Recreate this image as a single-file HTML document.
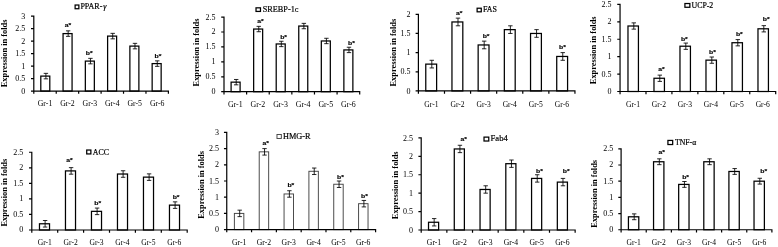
<!DOCTYPE html>
<html><head><meta charset="utf-8"><title>Expression in folds</title>
<style>html,body{margin:0;padding:0;background:#fff}svg{display:block}text{font-family:"Liberation Serif",serif;fill:#000}.m{font-family:"Liberation Sans",sans-serif;font-weight:bold;font-size:6px;stroke:#000;stroke-width:.15px}.l{stroke:#000;stroke-width:.2px}</style></head>
<body>
<svg width="778" height="247" viewBox="0 0 778 247">
<rect width="778" height="247" fill="#fff"/>
<g>
<text transform="translate(7.1,53.4) rotate(-90)" text-anchor="middle" font-size="8.4" font-weight="bold">Expression in folds</text>
<rect x="40.80" y="76.10" width="9.00" height="15.00" fill="#fff" stroke="#000" stroke-width="1.25"/>
<path d="M45.90 73.35V78.85M43.70 73.35H48.10M43.70 78.85H48.10" stroke="#000" stroke-width="0.85" fill="none"/>
<rect x="63.07" y="33.60" width="9.00" height="57.50" fill="#fff" stroke="#000" stroke-width="1.25"/>
<path d="M68.17 30.85V36.35M65.97 30.85H70.37M65.97 36.35H70.37" stroke="#000" stroke-width="0.85" fill="none"/>
<rect x="85.34" y="61.10" width="9.00" height="30.00" fill="#fff" stroke="#000" stroke-width="1.25"/>
<path d="M90.44 58.35V63.85M88.24 58.35H92.64M88.24 63.85H92.64" stroke="#000" stroke-width="0.85" fill="none"/>
<rect x="107.61" y="36.10" width="9.00" height="55.00" fill="#fff" stroke="#000" stroke-width="1.25"/>
<path d="M112.71 33.35V38.85M110.51 33.35H114.91M110.51 38.85H114.91" stroke="#000" stroke-width="0.85" fill="none"/>
<rect x="129.88" y="46.10" width="9.00" height="45.00" fill="#fff" stroke="#000" stroke-width="1.25"/>
<path d="M134.98 43.35V48.85M132.78 43.35H137.18M132.78 48.85H137.18" stroke="#000" stroke-width="0.85" fill="none"/>
<rect x="152.15" y="63.60" width="9.00" height="27.50" fill="#fff" stroke="#000" stroke-width="1.25"/>
<path d="M157.25 60.85V66.35M155.05 60.85H159.45M155.05 66.35H159.45" stroke="#000" stroke-width="0.85" fill="none"/>
<text class="m" transform="translate(67.90,26.90) scale(1.14,1)" text-anchor="middle">a*</text>
<text class="m" transform="translate(89.20,55.10) scale(1.14,1)" text-anchor="middle">b*</text>
<text class="m" transform="translate(157.90,57.60) scale(1.14,1)" text-anchor="middle">b*</text>
<path d="M33.80 15.50V91.10H169.00M31.00 91.10H33.80M31.00 78.60H33.80M31.00 66.10H33.80M31.00 53.60H33.80M31.00 41.10H33.80M31.00 28.60H33.80M31.00 16.10H33.80M33.80 91.10V93.80M56.23 91.10V93.80M78.67 91.10V93.80M101.10 91.10V93.80M123.53 91.10V93.80M145.97 91.10V93.80M168.40 91.10V93.80" stroke="#000" stroke-width="1.2" fill="none"/>
<text x="25.30" y="93.90" text-anchor="end" font-size="8">0</text>
<text x="25.30" y="81.40" text-anchor="end" font-size="8">0.5</text>
<text x="25.30" y="68.90" text-anchor="end" font-size="8">1</text>
<text x="25.30" y="56.40" text-anchor="end" font-size="8">1.5</text>
<text x="25.30" y="43.90" text-anchor="end" font-size="8">2</text>
<text x="25.30" y="31.40" text-anchor="end" font-size="8">2.5</text>
<text x="25.30" y="18.90" text-anchor="end" font-size="8">3</text>
<text x="45.02" y="106.30" text-anchor="middle" font-size="7.8">Gr-1</text>
<text x="67.45" y="106.30" text-anchor="middle" font-size="7.8">Gr-2</text>
<text x="89.88" y="106.30" text-anchor="middle" font-size="7.8">Gr-3</text>
<text x="112.32" y="106.30" text-anchor="middle" font-size="7.8">Gr-4</text>
<text x="134.75" y="106.30" text-anchor="middle" font-size="7.8">Gr-5</text>
<text x="157.18" y="106.30" text-anchor="middle" font-size="7.8">Gr-6</text>
<rect x="75.12" y="5.03" width="3.75" height="3.70" fill="#fff" stroke="#000" stroke-width="1.25"/>
<text class="l" x="80.40" y="9.10" font-size="8.0">PPAR-<tspan font-style="italic" dx="0.8">γ</tspan></text>
</g>
<g>
<text transform="translate(198.9,52.5) rotate(-90)" text-anchor="middle" font-size="8.4" font-weight="bold">Expression in folds</text>
<rect x="231.10" y="82.15" width="9.00" height="9.55" fill="#fff" stroke="#000" stroke-width="1.25"/>
<path d="M236.20 79.47V84.84M234.00 79.47H238.40M234.00 84.84H238.40" stroke="#000" stroke-width="0.85" fill="none"/>
<rect x="253.65" y="29.04" width="9.00" height="62.66" fill="#fff" stroke="#000" stroke-width="1.25"/>
<path d="M258.75 26.35V31.72M256.55 26.35H260.95M256.55 31.72H260.95" stroke="#000" stroke-width="0.85" fill="none"/>
<rect x="276.21" y="43.96" width="9.00" height="47.74" fill="#fff" stroke="#000" stroke-width="1.25"/>
<path d="M281.31 41.27V46.64M279.11 41.27H283.51M279.11 46.64H283.51" stroke="#000" stroke-width="0.85" fill="none"/>
<rect x="298.76" y="26.05" width="9.00" height="65.65" fill="#fff" stroke="#000" stroke-width="1.25"/>
<path d="M303.86 23.37V28.74M301.66 23.37H306.06M301.66 28.74H306.06" stroke="#000" stroke-width="0.85" fill="none"/>
<rect x="321.32" y="40.97" width="9.00" height="50.73" fill="#fff" stroke="#000" stroke-width="1.25"/>
<path d="M326.42 38.29V43.66M324.22 38.29H328.62M324.22 43.66H328.62" stroke="#000" stroke-width="0.85" fill="none"/>
<rect x="343.87" y="49.92" width="9.00" height="41.78" fill="#fff" stroke="#000" stroke-width="1.25"/>
<path d="M348.97 47.24V52.61M346.77 47.24H351.17M346.77 52.61H351.17" stroke="#000" stroke-width="0.85" fill="none"/>
<text class="m" transform="translate(260.50,23.00) scale(1.14,1)" text-anchor="middle">a*</text>
<text class="m" transform="translate(283.60,38.90) scale(1.14,1)" text-anchor="middle">b*</text>
<text class="m" transform="translate(351.40,44.50) scale(1.14,1)" text-anchor="middle">b*</text>
<path d="M224.00 16.50V91.70H360.30M221.20 91.70H224.00M221.20 76.78H224.00M221.20 61.86H224.00M221.20 46.94H224.00M221.20 32.02H224.00M221.20 17.10H224.00M224.00 91.70V94.40M246.62 91.70V94.40M269.23 91.70V94.40M291.85 91.70V94.40M314.47 91.70V94.40M337.08 91.70V94.40M359.70 91.70V94.40" stroke="#000" stroke-width="1.2" fill="none"/>
<text x="215.60" y="94.10" text-anchor="end" font-size="8">0</text>
<text x="215.60" y="79.18" text-anchor="end" font-size="8">0.5</text>
<text x="215.60" y="64.26" text-anchor="end" font-size="8">1</text>
<text x="215.60" y="49.34" text-anchor="end" font-size="8">1.5</text>
<text x="215.60" y="34.42" text-anchor="end" font-size="8">2</text>
<text x="215.60" y="19.50" text-anchor="end" font-size="8">2.5</text>
<text x="235.31" y="107.20" text-anchor="middle" font-size="7.9">Gr-1</text>
<text x="257.93" y="107.20" text-anchor="middle" font-size="7.9">Gr-2</text>
<text x="280.54" y="107.20" text-anchor="middle" font-size="7.9">Gr-3</text>
<text x="303.16" y="107.20" text-anchor="middle" font-size="7.9">Gr-4</text>
<text x="325.77" y="107.20" text-anchor="middle" font-size="7.9">Gr-5</text>
<text x="348.39" y="107.20" text-anchor="middle" font-size="7.9">Gr-6</text>
<rect x="256.02" y="7.83" width="4.45" height="3.60" fill="#fff" stroke="#000" stroke-width="1.25"/>
<text class="l" x="262.70" y="11.90" font-size="8.25">SREBP-1c</text>
</g>
<g>
<text transform="translate(395.7,52.6) rotate(-90)" text-anchor="middle" font-size="8.4" font-weight="bold">Expression in folds</text>
<rect x="425.77" y="64.12" width="10.85" height="26.83" fill="#fff" stroke="#000" stroke-width="1.25"/>
<path d="M431.80 60.29V67.95M429.60 60.29H434.00M429.60 67.95H434.00" stroke="#000" stroke-width="0.85" fill="none"/>
<rect x="451.96" y="21.96" width="10.85" height="68.99" fill="#fff" stroke="#000" stroke-width="1.25"/>
<path d="M457.99 18.13V25.80M455.79 18.13H460.19M455.79 25.80H460.19" stroke="#000" stroke-width="0.85" fill="none"/>
<rect x="478.15" y="44.96" width="10.85" height="45.99" fill="#fff" stroke="#000" stroke-width="1.25"/>
<path d="M484.18 41.13V48.79M481.98 41.13H486.38M481.98 48.79H486.38" stroke="#000" stroke-width="0.85" fill="none"/>
<rect x="504.34" y="29.63" width="10.85" height="61.32" fill="#fff" stroke="#000" stroke-width="1.25"/>
<path d="M510.37 25.80V33.46M508.17 25.80H512.57M508.17 33.46H512.57" stroke="#000" stroke-width="0.85" fill="none"/>
<rect x="530.54" y="33.46" width="10.85" height="57.49" fill="#fff" stroke="#000" stroke-width="1.25"/>
<path d="M536.56 29.63V37.30M534.36 29.63H538.76M534.36 37.30H538.76" stroke="#000" stroke-width="0.85" fill="none"/>
<rect x="556.73" y="56.46" width="10.85" height="34.49" fill="#fff" stroke="#000" stroke-width="1.25"/>
<path d="M562.75 52.62V60.29M560.55 52.62H564.95M560.55 60.29H564.95" stroke="#000" stroke-width="0.85" fill="none"/>
<text class="m" transform="translate(459.30,15.40) scale(1.14,1)" text-anchor="middle">a*</text>
<text class="m" transform="translate(486.10,38.30) scale(1.14,1)" text-anchor="middle">b*</text>
<text class="m" transform="translate(562.50,48.80) scale(1.14,1)" text-anchor="middle">b*</text>
<path d="M418.40 13.70V90.95H575.55M415.60 90.95H418.40M415.60 71.79H418.40M415.60 52.62H418.40M415.60 33.46H418.40M415.60 14.30H418.40M418.40 90.95V93.65M444.49 90.95V93.65M470.58 90.95V93.65M496.68 90.95V93.65M522.77 90.95V93.65M548.86 90.95V93.65M574.95 90.95V93.65" stroke="#000" stroke-width="1.2" fill="none"/>
<text x="410.60" y="93.60" text-anchor="end" font-size="8">0</text>
<text x="410.60" y="74.44" text-anchor="end" font-size="8">0.5</text>
<text x="410.60" y="55.27" text-anchor="end" font-size="8">1</text>
<text x="410.60" y="36.11" text-anchor="end" font-size="8">1.5</text>
<text x="410.60" y="16.95" text-anchor="end" font-size="8">2</text>
<text x="431.45" y="107.10" text-anchor="middle" font-size="7.6">Gr-1</text>
<text x="457.54" y="107.10" text-anchor="middle" font-size="7.6">Gr-2</text>
<text x="483.63" y="107.10" text-anchor="middle" font-size="7.6">Gr-3</text>
<text x="509.72" y="107.10" text-anchor="middle" font-size="7.6">Gr-4</text>
<text x="535.81" y="107.10" text-anchor="middle" font-size="7.6">Gr-5</text>
<text x="561.90" y="107.10" text-anchor="middle" font-size="7.6">Gr-6</text>
<rect x="477.12" y="8.22" width="4.15" height="3.60" fill="#fff" stroke="#000" stroke-width="1.25"/>
<text class="l" x="483.00" y="12.40" font-size="7.9">FAS</text>
</g>
<g>
<text transform="translate(596.3,50.3) rotate(-90)" text-anchor="middle" font-size="8.4" font-weight="bold">Expression in folds</text>
<rect x="627.98" y="26.00" width="10.45" height="65.50" fill="#fff" stroke="#000" stroke-width="1.25"/>
<path d="M633.80 22.87V29.14M631.60 22.87H636.00M631.60 29.14H636.00" stroke="#000" stroke-width="0.85" fill="none"/>
<rect x="653.98" y="78.26" width="10.45" height="13.24" fill="#fff" stroke="#000" stroke-width="1.25"/>
<path d="M659.80 75.13V81.40M657.60 75.13H662.00M657.60 81.40H662.00" stroke="#000" stroke-width="0.85" fill="none"/>
<rect x="679.98" y="46.21" width="10.45" height="45.29" fill="#fff" stroke="#000" stroke-width="1.25"/>
<path d="M685.80 43.07V49.34M683.60 43.07H688.00M683.60 49.34H688.00" stroke="#000" stroke-width="0.85" fill="none"/>
<rect x="705.98" y="60.14" width="10.45" height="31.36" fill="#fff" stroke="#000" stroke-width="1.25"/>
<path d="M711.80 57.01V63.28M709.60 57.01H714.00M709.60 63.28H714.00" stroke="#000" stroke-width="0.85" fill="none"/>
<rect x="731.98" y="42.72" width="10.45" height="48.78" fill="#fff" stroke="#000" stroke-width="1.25"/>
<path d="M737.80 39.59V45.86M735.60 39.59H740.00M735.60 45.86H740.00" stroke="#000" stroke-width="0.85" fill="none"/>
<rect x="757.98" y="28.79" width="10.45" height="62.71" fill="#fff" stroke="#000" stroke-width="1.25"/>
<path d="M763.80 25.65V31.92M761.60 25.65H766.00M761.60 31.92H766.00" stroke="#000" stroke-width="0.85" fill="none"/>
<text class="m" transform="translate(661.50,70.70) scale(1.14,1)" text-anchor="middle">a*</text>
<text class="m" transform="translate(684.30,40.60) scale(1.14,1)" text-anchor="middle">b*</text>
<text class="m" transform="translate(712.40,54.40) scale(1.14,1)" text-anchor="middle">b*</text>
<text class="m" transform="translate(739.30,35.80) scale(1.14,1)" text-anchor="middle">b*</text>
<text class="m" transform="translate(766.20,21.40) scale(1.14,1)" text-anchor="middle">b*</text>
<path d="M620.05 3.80V91.50H776.30M617.25 91.50H620.05M617.25 74.08H620.05M617.25 56.66H620.05M617.25 39.24H620.05M617.25 21.82H620.05M617.25 4.40H620.05M620.05 91.50V94.20M645.99 91.50V94.20M671.93 91.50V94.20M697.88 91.50V94.20M723.82 91.50V94.20M749.76 91.50V94.20M775.70 91.50V94.20" stroke="#000" stroke-width="1.2" fill="none"/>
<text x="611.55" y="93.95" text-anchor="end" font-size="8">0</text>
<text x="611.55" y="76.53" text-anchor="end" font-size="8">0.5</text>
<text x="611.55" y="59.11" text-anchor="end" font-size="8">1</text>
<text x="611.55" y="41.69" text-anchor="end" font-size="8">1.5</text>
<text x="611.55" y="24.27" text-anchor="end" font-size="8">2</text>
<text x="611.55" y="6.85" text-anchor="end" font-size="8">2.5</text>
<text x="633.02" y="107.10" text-anchor="middle" font-size="7.6">Gr-1</text>
<text x="658.96" y="107.10" text-anchor="middle" font-size="7.6">Gr-2</text>
<text x="684.90" y="107.10" text-anchor="middle" font-size="7.6">Gr-3</text>
<text x="710.85" y="107.10" text-anchor="middle" font-size="7.6">Gr-4</text>
<text x="736.79" y="107.10" text-anchor="middle" font-size="7.6">Gr-5</text>
<text x="762.73" y="107.10" text-anchor="middle" font-size="7.6">Gr-6</text>
<rect x="684.92" y="3.52" width="4.95" height="3.75" fill="#fff" stroke="#000" stroke-width="1.25"/>
<text class="l" x="691.50" y="7.90" font-size="7.85">UCP-2</text>
</g>
<g>
<text transform="translate(6.5,192.7) rotate(-90)" text-anchor="middle" font-size="8.4" font-weight="bold">Expression in folds</text>
<rect x="39.48" y="223.78" width="10.05" height="6.22" fill="#fff" stroke="#000" stroke-width="1.25"/>
<path d="M45.10 220.51V227.05M42.90 220.51H47.30M42.90 227.05H47.30" stroke="#000" stroke-width="0.85" fill="none"/>
<rect x="65.47" y="170.91" width="10.05" height="59.09" fill="#fff" stroke="#000" stroke-width="1.25"/>
<path d="M71.10 167.64V174.18M68.90 167.64H73.30M68.90 174.18H73.30" stroke="#000" stroke-width="0.85" fill="none"/>
<rect x="91.47" y="211.34" width="10.05" height="18.66" fill="#fff" stroke="#000" stroke-width="1.25"/>
<path d="M97.10 208.07V214.61M94.90 208.07H99.30M94.90 214.61H99.30" stroke="#000" stroke-width="0.85" fill="none"/>
<rect x="117.47" y="174.02" width="10.05" height="55.98" fill="#fff" stroke="#000" stroke-width="1.25"/>
<path d="M123.10 170.75V177.29M120.90 170.75H125.30M120.90 177.29H125.30" stroke="#000" stroke-width="0.85" fill="none"/>
<rect x="143.47" y="177.13" width="10.05" height="52.87" fill="#fff" stroke="#000" stroke-width="1.25"/>
<path d="M149.10 173.86V180.40M146.90 173.86H151.30M146.90 180.40H151.30" stroke="#000" stroke-width="0.85" fill="none"/>
<rect x="169.47" y="205.12" width="10.05" height="24.88" fill="#fff" stroke="#000" stroke-width="1.25"/>
<path d="M175.10 201.85V208.39M172.90 201.85H177.30M172.90 208.39H177.30" stroke="#000" stroke-width="0.85" fill="none"/>
<text class="m" transform="translate(69.40,161.90) scale(1.14,1)" text-anchor="middle">a*</text>
<text class="m" transform="translate(97.70,205.20) scale(1.14,1)" text-anchor="middle">b*</text>
<text class="m" transform="translate(176.10,198.60) scale(1.14,1)" text-anchor="middle">b*</text>
<path d="M31.80 151.65V230.00H187.80M29.00 230.00H31.80M29.00 214.45H31.80M29.00 198.90H31.80M29.00 183.35H31.80M29.00 167.80H31.80M29.00 152.25H31.80M31.80 230.00V232.70M57.70 230.00V232.70M83.60 230.00V232.70M109.50 230.00V232.70M135.40 230.00V232.70M161.30 230.00V232.70M187.20 230.00V232.70" stroke="#000" stroke-width="1.2" fill="none"/>
<text x="23.35" y="232.40" text-anchor="end" font-size="8">0</text>
<text x="23.35" y="216.85" text-anchor="end" font-size="8">0.5</text>
<text x="23.35" y="201.30" text-anchor="end" font-size="8">1</text>
<text x="23.35" y="185.75" text-anchor="end" font-size="8">1.5</text>
<text x="23.35" y="170.20" text-anchor="end" font-size="8">2</text>
<text x="23.35" y="154.65" text-anchor="end" font-size="8">2.5</text>
<text x="44.75" y="245.20" text-anchor="middle" font-size="7.6">Gr-1</text>
<text x="70.65" y="245.20" text-anchor="middle" font-size="7.6">Gr-2</text>
<text x="96.55" y="245.20" text-anchor="middle" font-size="7.6">Gr-3</text>
<text x="122.45" y="245.20" text-anchor="middle" font-size="7.6">Gr-4</text>
<text x="148.35" y="245.20" text-anchor="middle" font-size="7.6">Gr-5</text>
<text x="174.25" y="245.20" text-anchor="middle" font-size="7.6">Gr-6</text>
<rect x="86.72" y="150.03" width="4.15" height="3.90" fill="#fff" stroke="#000" stroke-width="1.25"/>
<text class="l" x="92.70" y="154.50" font-size="7.9">ACC</text>
</g>
<g>
<text transform="translate(203.6,184.9) rotate(-90)" text-anchor="middle" font-size="8.4" font-weight="bold">Expression in folds</text>
<rect x="234.38" y="213.40" width="9.45" height="16.20" fill="#fff" stroke="#444" stroke-width="0.95"/>
<path d="M239.70 210.16V216.64M237.50 210.16H241.90M237.50 216.64H241.90" stroke="#000" stroke-width="0.85" fill="none"/>
<rect x="259.22" y="151.84" width="9.45" height="77.76" fill="#fff" stroke="#444" stroke-width="0.95"/>
<path d="M264.54 148.60V155.08M262.34 148.60H266.74M262.34 155.08H266.74" stroke="#000" stroke-width="0.85" fill="none"/>
<rect x="284.06" y="193.96" width="9.45" height="35.64" fill="#fff" stroke="#444" stroke-width="0.95"/>
<path d="M289.38 190.72V197.20M287.18 190.72H291.58M287.18 197.20H291.58" stroke="#000" stroke-width="0.85" fill="none"/>
<rect x="308.90" y="171.28" width="9.45" height="58.32" fill="#fff" stroke="#444" stroke-width="0.95"/>
<path d="M314.22 168.04V174.52M312.02 168.04H316.42M312.02 174.52H316.42" stroke="#000" stroke-width="0.85" fill="none"/>
<rect x="333.74" y="184.24" width="9.45" height="45.36" fill="#fff" stroke="#444" stroke-width="0.95"/>
<path d="M339.06 181.00V187.48M336.86 181.00H341.26M336.86 187.48H341.26" stroke="#000" stroke-width="0.85" fill="none"/>
<rect x="358.58" y="203.68" width="9.45" height="25.92" fill="#fff" stroke="#444" stroke-width="0.95"/>
<path d="M363.90 200.44V206.92M361.70 200.44H366.10M361.70 206.92H366.10" stroke="#000" stroke-width="0.85" fill="none"/>
<text class="m" transform="translate(265.80,144.80) scale(1.14,1)" text-anchor="middle">a*</text>
<text class="m" transform="translate(290.80,186.90) scale(1.14,1)" text-anchor="middle">b*</text>
<text class="m" transform="translate(340.40,179.00) scale(1.14,1)" text-anchor="middle">b*</text>
<text class="m" transform="translate(364.50,197.80) scale(1.14,1)" text-anchor="middle">b*</text>
<path d="M226.75 131.80V229.60H376.20M223.95 229.60H226.75M223.95 213.40H226.75M223.95 197.20H226.75M223.95 181.00H226.75M223.95 164.80H226.75M223.95 148.60H226.75M223.95 132.40H226.75M226.75 229.60V232.30M251.56 229.60V232.30M276.37 229.60V232.30M301.18 229.60V232.30M325.98 229.60V232.30M350.79 229.60V232.30M375.60 229.60V232.30" stroke="#000" stroke-width="1.2" fill="none"/>
<text x="219.00" y="232.10" text-anchor="end" font-size="8">0</text>
<text x="219.00" y="215.90" text-anchor="end" font-size="8">0.5</text>
<text x="219.00" y="199.70" text-anchor="end" font-size="8">1</text>
<text x="219.00" y="183.50" text-anchor="end" font-size="8">1.5</text>
<text x="219.00" y="167.30" text-anchor="end" font-size="8">2</text>
<text x="219.00" y="151.10" text-anchor="end" font-size="8">2.5</text>
<text x="219.00" y="134.90" text-anchor="end" font-size="8">3</text>
<text x="239.15" y="244.60" text-anchor="middle" font-size="7.7">Gr-1</text>
<text x="263.96" y="244.60" text-anchor="middle" font-size="7.7">Gr-2</text>
<text x="288.77" y="244.60" text-anchor="middle" font-size="7.7">Gr-3</text>
<text x="313.58" y="244.60" text-anchor="middle" font-size="7.7">Gr-4</text>
<text x="338.39" y="244.60" text-anchor="middle" font-size="7.7">Gr-5</text>
<text x="363.20" y="244.60" text-anchor="middle" font-size="7.7">Gr-6</text>
<rect x="276.98" y="134.47" width="4.35" height="4.00" fill="#fff" stroke="#444" stroke-width="0.95"/>
<text class="l" x="283.00" y="138.70" font-size="8.25">HMG-R</text>
</g>
<g>
<text transform="translate(398.1,185.3) rotate(-90)" text-anchor="middle" font-size="8.4" font-weight="bold">Expression in folds</text>
<rect x="428.52" y="222.26" width="10.10" height="7.74" fill="#fff" stroke="#000" stroke-width="1.25"/>
<path d="M434.17 218.58V225.95M431.97 218.58H436.37M431.97 225.95H436.37" stroke="#000" stroke-width="0.85" fill="none"/>
<rect x="454.28" y="148.95" width="10.10" height="81.05" fill="#fff" stroke="#000" stroke-width="1.25"/>
<path d="M459.93 145.27V152.64M457.73 145.27H462.13M457.73 152.64H462.13" stroke="#000" stroke-width="0.85" fill="none"/>
<rect x="480.04" y="189.48" width="10.10" height="40.52" fill="#fff" stroke="#000" stroke-width="1.25"/>
<path d="M485.69 185.79V193.16M483.49 185.79H487.89M483.49 193.16H487.89" stroke="#000" stroke-width="0.85" fill="none"/>
<rect x="505.81" y="163.69" width="10.10" height="66.31" fill="#fff" stroke="#000" stroke-width="1.25"/>
<path d="M511.46 160.00V167.37M509.26 160.00H513.66M509.26 167.37H513.66" stroke="#000" stroke-width="0.85" fill="none"/>
<rect x="531.57" y="178.42" width="10.10" height="51.58" fill="#fff" stroke="#000" stroke-width="1.25"/>
<path d="M537.22 174.74V182.11M535.02 174.74H539.42M535.02 182.11H539.42" stroke="#000" stroke-width="0.85" fill="none"/>
<rect x="557.33" y="182.11" width="10.10" height="47.89" fill="#fff" stroke="#000" stroke-width="1.25"/>
<path d="M562.98 178.42V185.79M560.78 178.42H565.18M560.78 185.79H565.18" stroke="#000" stroke-width="0.85" fill="none"/>
<text class="m" transform="translate(463.70,141.20) scale(1.14,1)" text-anchor="middle">a*</text>
<text class="m" transform="translate(539.40,173.30) scale(1.14,1)" text-anchor="middle">b*</text>
<text class="m" transform="translate(566.20,173.30) scale(1.14,1)" text-anchor="middle">b*</text>
<path d="M421.20 137.30V230.00H575.75M418.40 230.00H421.20M418.40 211.58H421.20M418.40 193.16H421.20M418.40 174.74H421.20M418.40 156.32H421.20M418.40 137.90H421.20M421.20 230.00V232.70M446.86 230.00V232.70M472.52 230.00V232.70M498.17 230.00V232.70M523.83 230.00V232.70M549.49 230.00V232.70M575.15 230.00V232.70" stroke="#000" stroke-width="1.2" fill="none"/>
<text x="413.00" y="232.70" text-anchor="end" font-size="8">0</text>
<text x="413.00" y="214.28" text-anchor="end" font-size="8">0.5</text>
<text x="413.00" y="195.86" text-anchor="end" font-size="8">1</text>
<text x="413.00" y="177.44" text-anchor="end" font-size="8">1.5</text>
<text x="413.00" y="159.02" text-anchor="end" font-size="8">2</text>
<text x="413.00" y="140.60" text-anchor="end" font-size="8">2.5</text>
<text x="434.03" y="244.60" text-anchor="middle" font-size="7.7">Gr-1</text>
<text x="459.69" y="244.60" text-anchor="middle" font-size="7.7">Gr-2</text>
<text x="485.35" y="244.60" text-anchor="middle" font-size="7.7">Gr-3</text>
<text x="511.00" y="244.60" text-anchor="middle" font-size="7.7">Gr-4</text>
<text x="536.66" y="244.60" text-anchor="middle" font-size="7.7">Gr-5</text>
<text x="562.32" y="244.60" text-anchor="middle" font-size="7.7">Gr-6</text>
<rect x="484.02" y="137.12" width="4.75" height="3.90" fill="#fff" stroke="#000" stroke-width="1.25"/>
<text class="l" x="490.60" y="141.30" font-size="8.6">Fab4</text>
</g>
<g>
<text transform="translate(597.0,193.8) rotate(-90)" text-anchor="middle" font-size="8.4" font-weight="bold">Expression in folds</text>
<rect x="628.43" y="216.80" width="10.35" height="12.95" fill="#fff" stroke="#000" stroke-width="1.25"/>
<path d="M634.20 213.88V219.71M632.00 213.88H636.40M632.00 219.71H636.40" stroke="#000" stroke-width="0.85" fill="none"/>
<rect x="653.55" y="161.75" width="10.35" height="68.00" fill="#fff" stroke="#000" stroke-width="1.25"/>
<path d="M659.32 158.84V164.67M657.12 158.84H661.52M657.12 164.67H661.52" stroke="#000" stroke-width="0.85" fill="none"/>
<rect x="678.67" y="184.42" width="10.35" height="45.33" fill="#fff" stroke="#000" stroke-width="1.25"/>
<path d="M684.44 181.50V187.33M682.24 181.50H686.64M682.24 187.33H686.64" stroke="#000" stroke-width="0.85" fill="none"/>
<rect x="703.79" y="161.75" width="10.35" height="68.00" fill="#fff" stroke="#000" stroke-width="1.25"/>
<path d="M709.56 158.84V164.67M707.36 158.84H711.76M707.36 164.67H711.76" stroke="#000" stroke-width="0.85" fill="none"/>
<rect x="728.91" y="171.47" width="10.35" height="58.28" fill="#fff" stroke="#000" stroke-width="1.25"/>
<path d="M734.68 168.55V174.38M732.48 168.55H736.88M732.48 174.38H736.88" stroke="#000" stroke-width="0.85" fill="none"/>
<rect x="754.03" y="181.18" width="10.35" height="48.57" fill="#fff" stroke="#000" stroke-width="1.25"/>
<path d="M759.80 178.27V184.09M757.60 178.27H762.00M757.60 184.09H762.00" stroke="#000" stroke-width="0.85" fill="none"/>
<text class="m" transform="translate(661.80,154.40) scale(1.14,1)" text-anchor="middle">a*</text>
<text class="m" transform="translate(685.60,179.30) scale(1.14,1)" text-anchor="middle">b*</text>
<text class="m" transform="translate(763.70,173.10) scale(1.14,1)" text-anchor="middle">b*</text>
<path d="M621.10 148.20V229.75H772.50M618.30 229.75H621.10M618.30 213.56H621.10M618.30 197.37H621.10M618.30 181.18H621.10M618.30 164.99H621.10M618.30 148.80H621.10M621.10 229.75V232.45M646.23 229.75V232.45M671.37 229.75V232.45M696.50 229.75V232.45M721.63 229.75V232.45M746.77 229.75V232.45M771.90 229.75V232.45" stroke="#000" stroke-width="1.2" fill="none"/>
<text x="613.20" y="232.25" text-anchor="end" font-size="8">0</text>
<text x="613.20" y="216.06" text-anchor="end" font-size="8">0.5</text>
<text x="613.20" y="199.87" text-anchor="end" font-size="8">1</text>
<text x="613.20" y="183.68" text-anchor="end" font-size="8">1.5</text>
<text x="613.20" y="167.49" text-anchor="end" font-size="8">2</text>
<text x="613.20" y="151.30" text-anchor="end" font-size="8">2.5</text>
<text x="633.67" y="244.60" text-anchor="middle" font-size="7.6">Gr-1</text>
<text x="658.80" y="244.60" text-anchor="middle" font-size="7.6">Gr-2</text>
<text x="683.93" y="244.60" text-anchor="middle" font-size="7.6">Gr-3</text>
<text x="709.07" y="244.60" text-anchor="middle" font-size="7.6">Gr-4</text>
<text x="734.20" y="244.60" text-anchor="middle" font-size="7.6">Gr-5</text>
<text x="759.33" y="244.60" text-anchor="middle" font-size="7.6">Gr-6</text>
<rect x="667.92" y="140.43" width="4.75" height="4.10" fill="#fff" stroke="#000" stroke-width="1.25"/>
<text class="l" x="675.10" y="145.00" font-size="7.7">TNF-α</text>
</g>
</svg>
</body></html>
